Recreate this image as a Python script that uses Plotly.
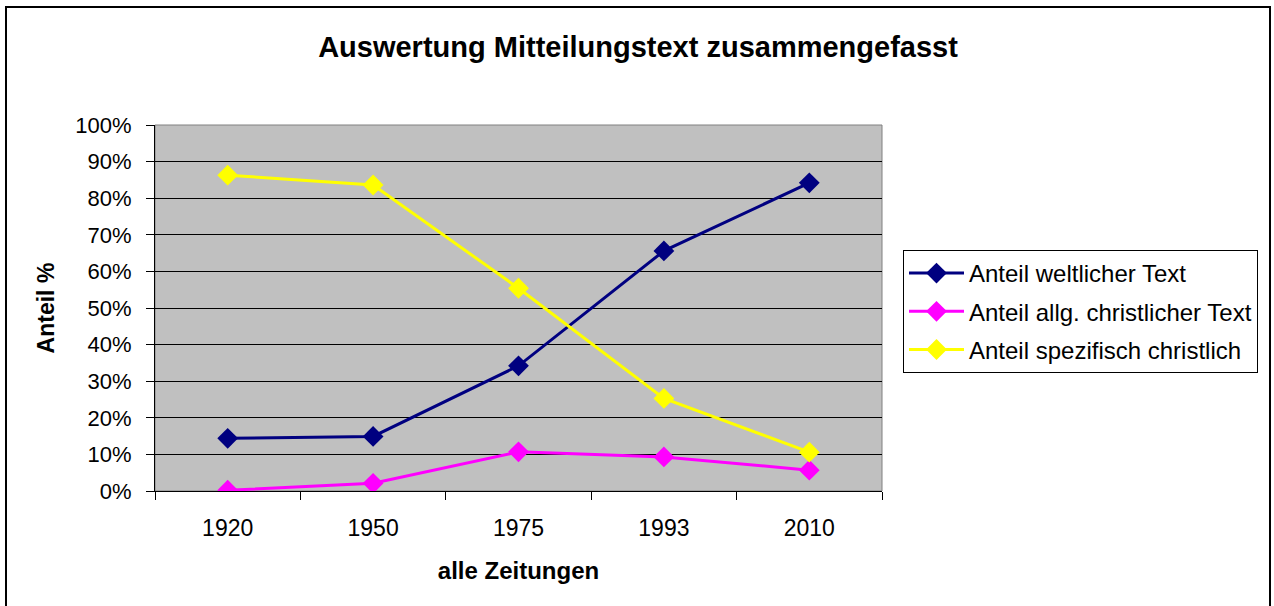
import plotly.graph_objects as go

categories = ["1920", "1950", "1975", "1993", "2010"]
weltlich = [14.4, 14.9, 34.2, 65.6, 84.2]
allg_christlich = [0.2, 2.1, 10.7, 9.3, 5.7]
spez_christlich = [86.3, 83.6, 55.4, 25.3, 10.6]
y_ticks = [0, 10, 20, 30, 40, 50, 60, 70, 80, 90, 100]
y_ticktext = [f"{v}%" for v in y_ticks]

series = [
    ("Anteil weltlicher Text", weltlich, "#000080"),
    ("Anteil allg. christlicher Text", allg_christlich, "#FF00FF"),
    ("Anteil spezifisch christlich", spez_christlich, "#FFFF00"),
]

fig = go.Figure()
for i, (name, vals, col) in enumerate(series):
    fig.add_trace(go.Scatter(
        x=categories, y=vals, name=name, mode="lines+markers",
        line=dict(color=col, width=3),
        marker=dict(symbol="diamond", size=16, color=col),
        legendgroup=f"g{i}",
    ))

L, R, T, B = 155, 392, 125, 115
W, H = 1274, 606
pw, ph = W - L - R, H - T - B

def px_x(p):
    return (p - L) / pw

def px_y(p):
    return (H - B - p) / ph

fig.update_layout(
    width=W, height=H,
    margin=dict(l=L, r=R, t=T, b=B),
    paper_bgcolor="white",
    plot_bgcolor="#C0C0C0",
    font=dict(family="Liberation Sans, Arial", size=22, color="black"),
    title=dict(text="<b>Auswertung Mitteilungstext zusammengefasst</b>",
               x=px_x(638), xref="paper", xanchor="center",
               y=1 - 47 / H, yanchor="middle",
               font=dict(size=29)),
    xaxis=dict(
        type="category", range=[-0.5, 4.5],
        tickson="boundaries", ticks="outside", ticklen=8, tickcolor="black",
        showline=True, linecolor="black", linewidth=1,
        showgrid=False, zeroline=False,
        title=dict(text="<b>alle Zeitungen</b>", font=dict(size=24), standoff=22),
        tickfont=dict(size=23),
        ticklabelstandoff=16,
    ),
    yaxis=dict(
        range=[0, 100], tickvals=y_ticks, ticktext=y_ticktext,
        ticks="outside", ticklen=8, tickcolor="black",
        showline=True, linecolor="black", linewidth=1,
        showgrid=True, gridcolor="black", gridwidth=1,
        zeroline=False,
        title=dict(text="<b>Anteil %</b>", font=dict(size=23), standoff=14),
        tickfont=dict(size=22),
        ticklabelstandoff=10,
    ),
    legend=dict(
        x=px_x(903), xanchor="left", y=px_y(250), yanchor="top",
        bordercolor="black", borderwidth=1, bgcolor="white",
        font=dict(size=24), tracegroupgap=4, traceorder="grouped",
        itemwidth=55,
    ),
    showlegend=True,
    shapes=[
        dict(type="rect", xref="paper", yref="paper",
             x0=px_x(6), x1=px_x(1270), y0=px_y(7), y1=px_y(620),
             line=dict(color="black", width=2), fillcolor="rgba(0,0,0,0)",
             layer="below"),
        dict(type="rect", xref="paper", yref="paper",
             x0=0, x1=1, y0=0, y1=1,
             line=dict(color="#808080", width=1), fillcolor="rgba(0,0,0,0)",
             layer="below"),
    ],
)

fig.write_html("out.html", config={"displayModeBar": False},
               post_script="document.body.style.margin='0px';")
